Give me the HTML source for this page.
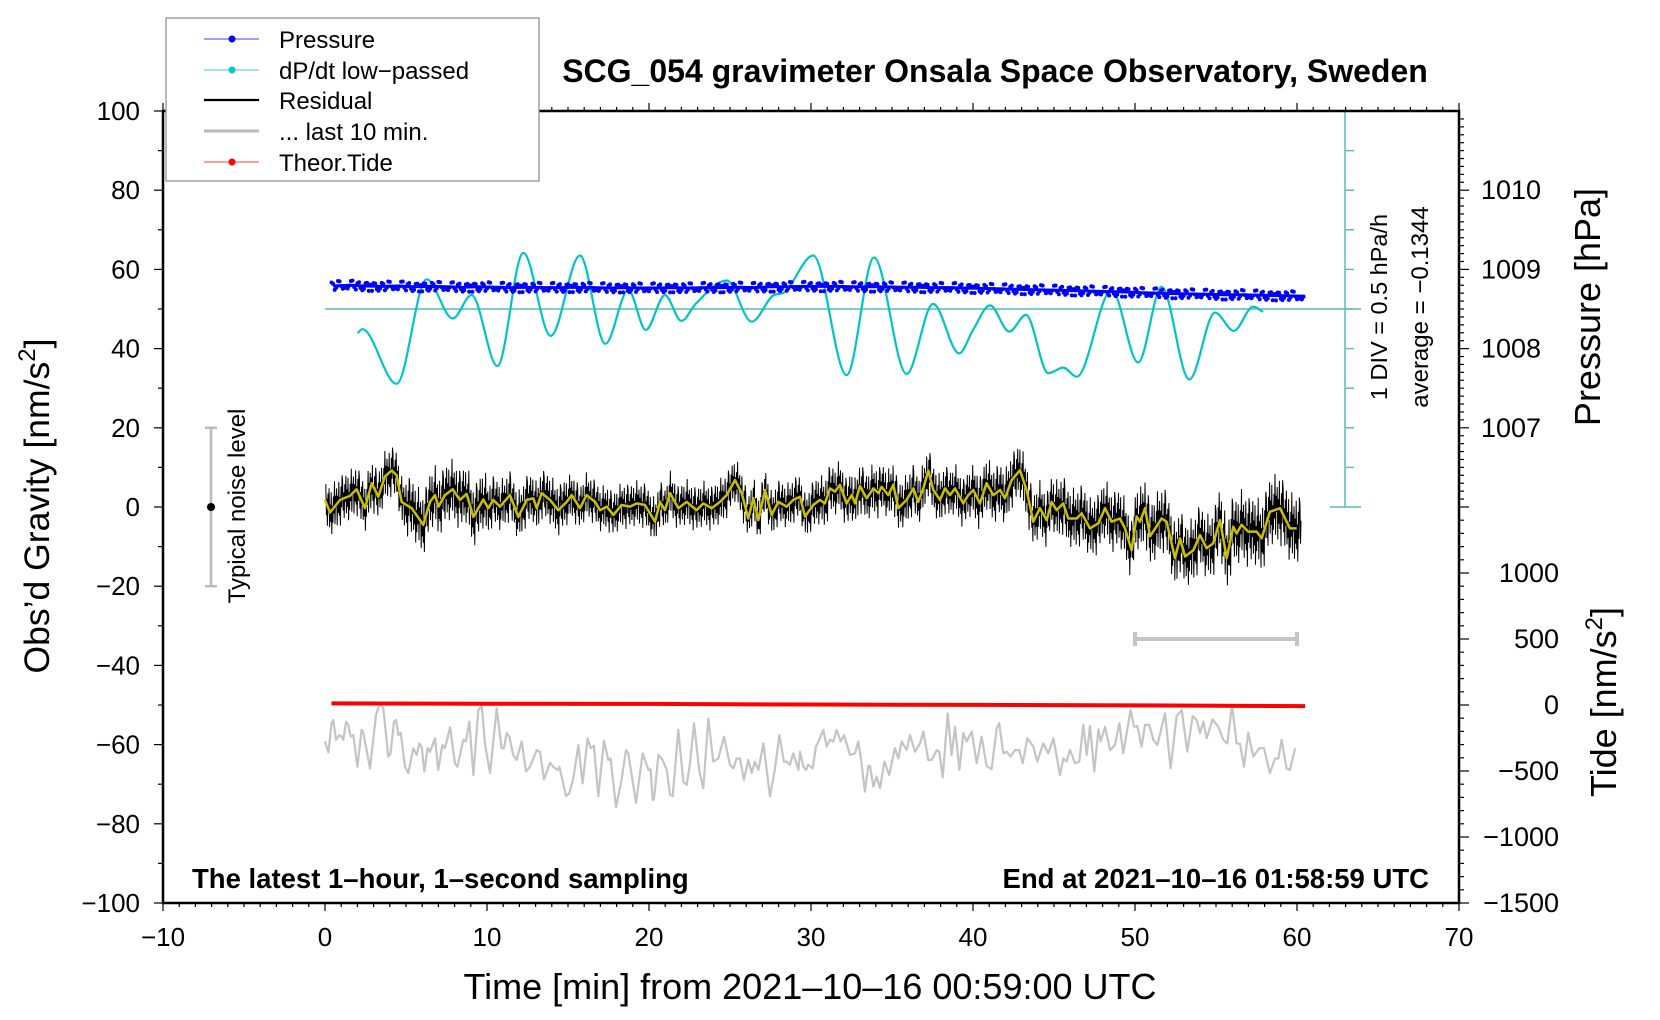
<!DOCTYPE html>
<html><head><meta charset="utf-8"><style>
html,body{margin:0;padding:0;background:#fff;}
svg{display:block;font-family:"Liberation Sans",sans-serif;}
</style></head><body>
<svg id="chart" width="1660" height="1020" viewBox="0 0 1660 1020" xmlns="http://www.w3.org/2000/svg">
<rect x="0" y="0" width="1660" height="1020" fill="#fff"/>
<g id="plot"></g>
<g id="axes"></g>
<text x="995" y="82" text-anchor="middle" font-size="32" font-weight="bold">SCG_054 gravimeter Onsala Space Observatory, Sweden</text>
<text x="192" y="888" font-size="27.5" font-weight="bold">The latest 1–hour, 1–second sampling</text>
<text x="1429" y="888" text-anchor="end" font-size="27.5" font-weight="bold">End at 2021–10–16 01:58:59 UTC</text>
<text x="810" y="999" text-anchor="middle" font-size="36">Time [min] from 2021–10–16 00:59:00 UTC</text>
<text transform="translate(49,506) rotate(-90)" text-anchor="middle" font-size="35.5">Obs’d Gravity [nm/s<tspan font-size="24" dy="-14">2</tspan><tspan dy="14">]</tspan></text>
<text transform="translate(1600,307) rotate(-90)" text-anchor="middle" font-size="36">Pressure [hPa]</text>
<text transform="translate(1616,702) rotate(-90)" text-anchor="middle" font-size="36">Tide [nm/s<tspan font-size="24" dy="-14">2</tspan><tspan dy="14">]</tspan></text>
<text transform="translate(1387,307) rotate(-90)" text-anchor="middle" font-size="23.5">1 DIV = 0.5 hPa/h</text>
<text transform="translate(1428,307) rotate(-90)" text-anchor="middle" font-size="24">average = −0.1344</text>
<text transform="translate(245,506) rotate(-90)" text-anchor="middle" font-size="24">Typical noise level</text>
<g id="legend">
<rect x="166" y="18" width="373" height="163" fill="#fff" stroke="#888" stroke-width="1.2"/>
<g><line x1="204" y1="39" x2="259" y2="39" stroke="#4040ff" stroke-width="1"/><circle cx="232" cy="39" r="3.5" fill="#0000ff"/><text x="279" y="48" font-size="24">Pressure</text></g>
<g><line x1="204" y1="70" x2="259" y2="70" stroke="#40d0d0" stroke-width="1"/><circle cx="232" cy="70" r="3.5" fill="#00c8c8"/><text x="279" y="79" font-size="24">dP/dt low−passed</text></g>
<g><line x1="204" y1="100" x2="259" y2="100" stroke="#000" stroke-width="2.2"/><text x="279" y="109" font-size="24">Residual</text></g>
<g><line x1="204" y1="131" x2="259" y2="131" stroke="#bbb" stroke-width="3"/><text x="279" y="140" font-size="24">... last 10 min.</text></g>
<g><line x1="204" y1="162" x2="259" y2="162" stroke="#ff4040" stroke-width="1"/><circle cx="232" cy="162" r="3.5" fill="#ff0000"/><text x="279" y="171" font-size="24">Theor.Tide</text></g>
</g>
</svg>
<script>
// ---- data ----
const xTicks = [-10,0,10,20,30,40,50,60,70];
const yTicks = [100,80,60,40,20,0,-20,-40,-60,-80,-100];
const pressureTicks = [1010,1009,1008,1007];
const tideTicks = [1000,500,0,-500,-1000,-1500];
// pressure (hPa), one value per minute starting at 0.5 min
const pressureVals = [1008.79,1008.80,1008.79,1008.785,1008.79,1008.78,1008.785,1008.78,1008.775,1008.78,
1008.775,1008.77,1008.775,1008.77,1008.77,1008.775,1008.77,1008.765,1008.77,1008.765,
1008.765,1008.77,1008.765,1008.77,1008.77,1008.775,1008.77,1008.78,1008.78,1008.785,
1008.785,1008.785,1008.78,1008.78,1008.78,1008.775,1008.775,1008.77,1008.77,1008.765,
1008.76,1008.755,1008.75,1008.745,1008.74,1008.735,1008.73,1008.725,1008.72,1008.715,
1008.705,1008.70,1008.695,1008.69,1008.685,1008.68,1008.68,1008.675,1008.67,1008.665,1008.66];
// dP/dt low-passed (hPa/h)
const dpdtT = [2.02,2.3,4.42,6.28,7.88,9.05,10.64,12.24,13.93,15.74,17.3,18.73,19.8,20.99,22.0,22.9,24.8,26.34,27.7,28.3,30.14,32.2,33.89,35.9,37.54,39.15,40.0,41.05,42.24,43.27,44.65,45.57,46.4,48.56,50.2,51.64,53.35,54.94,56.1,57.3,57.9];
const dpdtV = [-0.305,-0.255,-0.945,0.375,-0.12,0.175,-0.72,0.71,-0.34,0.675,-0.44,0.24,-0.265,0.175,-0.15,0.07,0.36,-0.16,0.175,0.205,0.675,-0.835,0.65,-0.82,0.065,-0.56,-0.265,0.045,-0.285,-0.075,-0.81,-0.74,-0.855,0.24,-0.675,0.28,-0.89,-0.045,-0.275,0.03,-0.035];
// smoothed residual (nm/s^2)
const smoothT = [0.0,0.31,0.93,1.54,1.95,2.47,2.88,3.29,3.7,4.11,4.42,4.73,5.35,6.07,6.48,6.79,7.0,7.41,7.88,8.33,8.74,9.16,9.77,10.08,10.39,10.8,11.42,11.93,12.45,12.86,13.07,13.37,13.89,14.4,14.92,15.23,15.74,16.15,16.67,16.98,17.39,17.8,18.31,18.83,19.24,19.75,20.37,20.68,20.99,21.3,21.81,22.33,22.94,23.35,23.87,24.38,24.79,25.31,25.72,26.13,26.44,26.75,27.16,27.57,27.98,28.5,28.91,29.32,29.63,30.14,30.55,30.86,31.17,31.48,31.79,32.2,32.51,32.72,33.02,33.44,33.85,34.16,34.36,34.77,35.08,35.39,35.9,36.32,36.62,36.93,37.24,37.55,37.96,38.27,38.58,38.89,39.4,39.71,40.02,40.43,40.84,41.25,41.67,41.97,42.39,42.9,43.31,43.72,44.13,44.55,44.85,45.16,45.57,45.88,46.4,46.71,47.22,47.74,48.15,48.56,49.07,49.38,49.79,50.1,50.31,50.62,50.93,51.64,51.95,52.47,52.78,53.09,53.6,54.01,54.42,54.83,55.25,55.66,56.07,56.27,56.58,56.99,57.51,57.82,58.33,58.95,59.57,59.98];
const smoothV = [1.8,-1.4,1.8,2.8,4.5,-0.3,6.0,2.6,7.7,9.2,8.1,1.3,-0.3,-4.5,1.3,3.0,0.1,3.0,4.5,1.8,3.3,-2.5,1.9,-0.3,1.8,0.1,3.0,-2.5,1.8,2.2,-0.3,3.5,1.8,-0.8,1.3,3.0,-0.3,3.0,1.3,-0.8,0.1,-2.0,0.5,0.1,0.9,0.5,-3.7,1.3,-0.8,3.5,-0.3,1.3,-0.8,0.9,-0.3,1.3,3.0,6.8,3.5,-2.9,2.2,-3.3,4.3,-2.0,1.3,0.1,1.8,2.6,-2.4,0.5,1.8,0.9,4.7,3.9,5.6,0.9,3.0,0.9,5.3,2.2,4.7,3.5,5.1,3.0,5.6,-0.3,1.8,4.7,1.3,4.7,9.2,4.3,1.8,4.7,3.0,4.7,0.9,3.0,4.3,0.9,6.0,3.0,4.3,2.2,6.8,9.3,4.3,-3.7,-0.3,-3.3,1.3,-0.8,0.9,-2.9,-2.9,-1.6,-5.4,-4.1,-0.3,-3.7,-2.9,-5.4,-10.9,-2.4,-3.7,-0.3,-7.4,-2.9,-3.7,-12.9,-7.9,-12.5,-10.9,-7.1,-10.4,-9.2,-3.3,-12.9,-5.0,-6.7,-4.5,-6.2,-6.2,-7.9,-1.2,-0.3,-5.4,-5.4];
// residual noise amplitude per 5 min (nm/s^2)
const noiseAmp = [5,6,5,4.5,4.5,4.5,5,5,5.5,6,6.5,7,6.5];
const noisePattern = [0.9,-0.6,0.3,-1,0.7,-0.2,1.1,-0.8,0.4,-0.5,0.95,-1.2,0.2,-0.7,0.6,-0.3,1.3,-0.9,0.5,-0.1,0.8,-1.1,0.35,-0.55,1.0,-0.75,0.15,-1.3,0.65,-0.4,1.2];
// last 10 min residual (stretched), nm/s^2
const grayT = [0.00,0.21,0.41,0.51,0.68,0.88,1.03,1.13,1.30,1.44,1.58,1.75,2.0,2.26,2.37,2.78,3.15,3.39,3.6,3.91,4.05,4.26,4.38,4.53,4.67,4.94,5.14,5.45,5.66,5.82,5.97,6.13,6.34,6.48,6.79,6.99,7.24,7.41,7.72,8.02,8.17,8.54,8.70,8.91,9.16,9.46,9.67,9.88,10.19,10.6,10.9,11.05,11.21,11.38,11.62,11.83,12.14,12.41,12.65,13.07,13.27,13.52,13.89,14.09,14.34,14.46,14.61,14.88,15.08,15.33,15.64,15.9,16.21,16.4,16.6,16.87,17.22,17.49,17.63,17.96,18.31,18.58,18.72,19.2,19.61,19.96,20.1,20.23,20.31,20.58,20.84,21.09,21.3,21.46,21.81,22.12,22.33,22.53,22.78,23.11,23.35,23.66,23.97,24.28,24.63,25.0,25.21,25.41,25.62,25.86,26.13,26.34,26.54,26.75,27.06,27.47,27.78,28.05,28.33,28.5,28.7,28.91,29.22,29.32,29.53,29.69,29.83,30.1,30.31,30.55,30.76,30.97,31.17,31.38,31.58,31.83,32.04,32.41,32.72,32.92,33.09,33.33,33.54,33.64,33.85,34.05,34.26,34.53,34.83,35.18,35.39,35.6,35.9,36.11,36.42,36.73,36.93,37.24,37.45,37.76,37.92,38.13,38.44,38.68,38.89,39.16,39.4,39.61,39.92,40.23,40.53,40.84,41.15,41.46,41.62,41.87,42.08,42.32,42.59,42.86,43.07,43.35,43.72,43.97,44.34,44.65,44.96,45.37,45.58,45.78,45.99,46.3,46.56,46.81,47.02,47.22,47.49,47.74,47.88,48.15,48.46,48.76,49.03,49.28,49.73,49.94,50.14,50.41,50.62,50.88,51.13,51.38,51.85,52.2,52.57,52.88,53.23,53.56,53.81,54.01,54.22,54.42,54.79,55.14,55.45,55.7,55.99,56.27,56.48,56.73,56.99,57.3,57.67,57.96,58.33,58.64,58.85,59.05,59.36,59.57,59.88];
const grayV = [-59.2,-62.0,-54.6,-53.8,-58.8,-57.6,-58.0,-58.8,-54.2,-55.0,-58.0,-57.6,-65.6,-56.3,-57.1,-66.0,-52.5,-49.6,-50.8,-63.0,-62.2,-54.2,-53.8,-57.6,-57.0,-65.6,-67.2,-60.9,-62.6,-59.7,-60.5,-66.8,-60.9,-61.8,-58.4,-66.4,-60.1,-60.9,-55.6,-64.7,-65.6,-58.8,-59.2,-54.2,-67.7,-51.3,-50.2,-60.1,-67.2,-50.8,-60.9,-60.9,-57.1,-58.0,-62.6,-63.9,-59.2,-66.8,-65.6,-61.4,-61.8,-68.8,-64.6,-65.6,-66.4,-65.6,-68.1,-73.0,-72.3,-68.5,-60.1,-69.8,-58.4,-60.9,-60.3,-73.0,-59.0,-63.9,-63.5,-75.8,-68.9,-61.4,-62.2,-74.7,-62.2,-66.4,-66.2,-74.0,-73.8,-62.6,-63.9,-66.4,-72.7,-73.0,-56.3,-69.3,-70.2,-64.7,-54.6,-66.8,-71.0,-53.4,-64.3,-63.5,-58.0,-65.1,-66.0,-63.5,-63.5,-68.9,-63.9,-67.2,-64.3,-66.4,-59.7,-73.1,-66.0,-57.6,-64.3,-64.3,-65.1,-62.2,-66.4,-61.8,-65.6,-66.4,-65.1,-66.0,-60.5,-58.4,-56.3,-60.5,-58.8,-59.2,-56.3,-59.2,-57.6,-62.6,-62.2,-59.2,-63.9,-71.9,-65.4,-65.4,-70.6,-68.1,-71.0,-64.3,-67.7,-60.9,-63.5,-59.2,-61.4,-57.6,-61.8,-59.7,-56.7,-63.9,-63.9,-61.4,-61.8,-68.3,-52.1,-62.6,-55.5,-66.4,-57.1,-59.2,-56.7,-64.7,-58.0,-65.4,-66.2,-55.9,-54.6,-62.2,-61.8,-63.0,-61.4,-61.4,-64.7,-58.4,-60.5,-64.3,-59.7,-62.2,-58.4,-67.7,-63.5,-64.3,-61.4,-64.7,-64.3,-55.0,-62.6,-55.3,-66.8,-56.1,-59.2,-55.5,-61.4,-60.1,-54.6,-62.2,-51.3,-55.5,-55.3,-60.5,-55.0,-55.0,-58.8,-60.1,-52.1,-66.0,-52.8,-51.3,-61.8,-52.8,-53.8,-57.1,-54.2,-58.4,-53.6,-55.5,-58.8,-59.7,-50.0,-59.7,-59.8,-65.6,-57.0,-63.0,-60.9,-60.9,-67.2,-63.5,-63.5,-58.8,-66.0,-66.4,-60.9];
// theoretical tide (nm/s^2), every 10 min from 0.4
const tideT = [0.4,10,20,30,40,50,60.5];
const tideV = [12,10,8,4,1,-3,-8];

// ---- scales ----
const X = t => 163 + (t + 10) * 16.2;
const Y = g => 111 + (100 - g) * 3.96;
const pToG = p => 80 + (p - 1010) * 20;
const tideToG = v => -50 + v / 30;
const dpdtToG = d => 50 + d * 20;
const NS = 'http://www.w3.org/2000/svg';
const plot = document.getElementById('plot');
const axes = document.getElementById('axes');
function mk(tag, attrs, parent) {
  const e = document.createElementNS(NS, tag);
  for (const k in attrs) e.setAttribute(k, attrs[k]);
  parent.appendChild(e);
  return e;
}
function interp(ts, vs, t) {
  if (t <= ts[0]) return vs[0];
  for (let i = 1; i < ts.length; i++) if (t <= ts[i]) { const f = (t - ts[i-1]) / (ts[i] - ts[i-1]); return vs[i-1] + f * (vs[i] - vs[i-1]); }
  return vs[vs.length - 1];
}

// ---- dP/dt scale bar ----
const scale = mk('g', {}, plot);


mk('line', {x1:1345, y1:Y(100), x2:1345, y2:Y(0), stroke:'#5cbcbc', 'stroke-width':1.5}, scale);
for (let k = 0; k <= 10; k++) {
  const gy = Y(k * 10);
  const full = (k === 0 || k === 10);
  mk('line', {x1: full ? 1330 : 1345, y1: gy, x2: full ? 1361 : 1354, y2: gy, stroke:'#5cbcbc', 'stroke-width':1.5}, scale);
}
const zl = mk('line', {x1:X(0), y1:Y(50), x2:1361, y2:Y(50), stroke:'#5cbcbc', 'stroke-width':1.5}, plot);



// ---- noise level bar ----
const nb = mk('g', {}, plot);


mk('line', {x1:211, y1:Y(20), x2:211, y2:Y(-20), stroke:'#bbb', 'stroke-width':2.5}, nb);
mk('line', {x1:205, y1:Y(20), x2:217, y2:Y(20), stroke:'#bbb', 'stroke-width':2.5}, nb);
mk('line', {x1:205, y1:Y(-20), x2:217, y2:Y(-20), stroke:'#bbb', 'stroke-width':2.5}, nb);
mk('circle', {cx:211, cy:Y(0), r:4, fill:'#000'}, nb);

// ---- last-10-min range bar ----
const rb = mk('g', {}, plot);


const rbG = tideToG(500);
mk('line', {x1:X(50), y1:Y(rbG), x2:X(60), y2:Y(rbG), stroke:'#c4c4c4', 'stroke-width':4}, rb);
mk('line', {x1:X(50), y1:Y(rbG)-7, x2:X(50), y2:Y(rbG)+7, stroke:'#c4c4c4', 'stroke-width':4}, rb);
mk('line', {x1:X(60), y1:Y(rbG)-7, x2:X(60), y2:Y(rbG)+7, stroke:'#c4c4c4', 'stroke-width':4}, rb);

// ---- gray last-10-min series ----
const gp = grayT.map((t, i) => X(t).toFixed(1) + ',' + Y(grayV[i]).toFixed(1)).join(' ');
const gl = mk('polyline', {points: gp, fill:'none', stroke:'#c4c4c4', 'stroke-width':2.2, 'stroke-linejoin':'round'}, plot);



// ---- tide ----
const tp = tideT.map((t, i) => X(t).toFixed(1) + ',' + Y(tideToG(tideV[i])).toFixed(1)).join(' ');
const tl = mk('polyline', {points: tp, fill:'none', stroke:'#ff0000', 'stroke-width':4}, plot);



// ---- residual (black noisy) ----
const rpts = [];
const N = 1800;
for (let k = 0; k <= N; k++) {
  const t = 0.05 + k * (60.2 / N);
  const base = interp(smoothT, smoothV, t);
  const amp = noiseAmp[Math.min(noiseAmp.length - 1, Math.floor(t / 5))];
  const v = base + amp * noisePattern[k % noisePattern.length];
  rpts.push(X(t).toFixed(1) + ',' + Y(v).toFixed(1));
}
const rl = mk('polyline', {points: rpts.join(' '), fill:'none', stroke:'#000', 'stroke-width':1}, plot);



// ---- smoothed residual (yellow) ----
const sp = smoothT.map((t, i) => X(t).toFixed(1) + ',' + Y(smoothV[i]).toFixed(1)).join(' ');
const sl = mk('polyline', {points: sp, fill:'none', stroke:'#c8c000', 'stroke-width':2.5, 'stroke-linejoin':'round'}, plot);



// ---- dP/dt curve (monotone cubic) ----
function monotonePath(xs, ys) {
  const n = xs.length, d = [], m = [];
  for (let i = 0; i < n - 1; i++) d.push((ys[i+1] - ys[i]) / (xs[i+1] - xs[i]));
  m.push(d[0]);
  for (let i = 1; i < n - 1; i++) m.push(d[i-1] * d[i] <= 0 ? 0 : (d[i-1] + d[i]) / 2);
  m.push(d[n-2]);
  for (let i = 0; i < n - 1; i++) {
    if (d[i] === 0) { m[i] = 0; m[i+1] = 0; continue; }
    const a = m[i] / d[i], b = m[i+1] / d[i], s = a*a + b*b;
    if (s > 9) { const tt = 3 / Math.sqrt(s); m[i] = tt*a*d[i]; m[i+1] = tt*b*d[i]; }
  }
  let p = 'M' + xs[0].toFixed(1) + ',' + ys[0].toFixed(1);
  for (let i = 0; i < n - 1; i++) {
    const h = (xs[i+1] - xs[i]) / 3;
    p += ' C' + (xs[i]+h).toFixed(1) + ',' + (ys[i]+m[i]*h).toFixed(1) + ' ' + (xs[i+1]-h).toFixed(1) + ',' + (ys[i+1]-m[i+1]*h).toFixed(1) + ' ' + xs[i+1].toFixed(1) + ',' + ys[i+1].toFixed(1);
  }
  return p;
}
const cyx = dpdtT.map(X), cyy = dpdtV.map(v => Y(dpdtToG(v)));
const cl = mk('path', {d: monotonePath(cyx, cyy), fill:'none', stroke:'#00c4c4', 'stroke-width':2.2}, plot);



// ---- pressure dots ----
const pg = mk('g', {fill:'#0000ff'}, plot);


const pTimes = pressureVals.map((v, i) => 0.5 + i);
mk('polyline', {points: pTimes.map((t, i) => X(t).toFixed(1) + ',' + Y(pToG(pressureVals[i])).toFixed(1)).join(' '), fill:'none', stroke:'#0000ff', 'stroke-width':3, 'stroke-linejoin':'round'}, pg);
for (let k = 0; k <= 600; k++) {
  const t = 0.4 + k * 0.1;
  const idx = (k * k * 3 + k * 11) % noisePattern.length;
  const p = interp(pTimes, pressureVals, t) + 0.05 * noisePattern[idx];
  mk('circle', {cx: X(t).toFixed(1), cy: Y(pToG(p)).toFixed(1), r: 2}, pg);
}

// ---- axes frame ----
const fr = mk('rect', {x:163, y:111, width:1296, height:792, fill:'none', stroke:'#000', 'stroke-width':2.5}, axes);


for (let t = -10; t <= 70; t++) {
  const major = t % 10 === 0;
  const len = major ? 8 : 4;
  mk('line', {x1:X(t), y1:903, x2:X(t), y2:903+len, stroke:'#000', 'stroke-width':1.2}, axes);
  mk('line', {x1:X(t), y1:111, x2:X(t), y2:111-len, stroke:'#000', 'stroke-width':1.2}, axes);
}
xTicks.forEach(t => {
  const e = mk('text', {x: X(t), y: 946, 'text-anchor':'middle', 'font-size':26}, axes);
  e.textContent = t < 0 ? '−' + Math.abs(t) : String(t);
  
  
});
for (let g = -100; g <= 100; g += 10) {
  const major = g % 20 === 0;
  mk('line', {x1:163, y1:Y(g), x2:163 - (major ? 9 : 5), y2:Y(g), stroke:'#000', 'stroke-width':1.2}, axes);
}
yTicks.forEach(g => {
  const e = mk('text', {x: 140, y: Y(g) + 9, 'text-anchor':'end', 'font-size':26}, axes);
  e.textContent = g < 0 ? '−' + Math.abs(g) : String(g);
  
  
});
for (let i = 0; i <= 49; i++) {
  const p = 1006 + i * 0.1;
  const isInt = Math.abs(p - Math.round(p)) < 1e-6;
  mk('line', {x1:1459, y1:Y(pToG(p)), x2:1459 + (isInt ? 10 : 5), y2:Y(pToG(p)), stroke:'#000', 'stroke-width':1.2}, axes);
}
pressureTicks.forEach(p => {
  const e = mk('text', {x: 1481, y: Y(pToG(p)) + 9, 'font-size':27}, axes);
  e.textContent = String(p);
  
  
});
for (let v = -1500; v <= 1400; v += 100) {
  const major = v % 500 === 0;
  mk('line', {x1:1459, y1:Y(tideToG(v)), x2:1459 + (major ? 10 : 5), y2:Y(tideToG(v)), stroke:'#000', 'stroke-width':1.2}, axes);
}
tideTicks.forEach(v => {
  const e = mk('text', {x: 1559, y: Y(tideToG(v)) + 9, 'text-anchor':'end', 'font-size':27}, axes);
  e.textContent = v < 0 ? '−' + Math.abs(v) : String(v);
  
  
});
document.getElementById('chart').appendChild(document.getElementById('legend'));
</script>
</body></html>
